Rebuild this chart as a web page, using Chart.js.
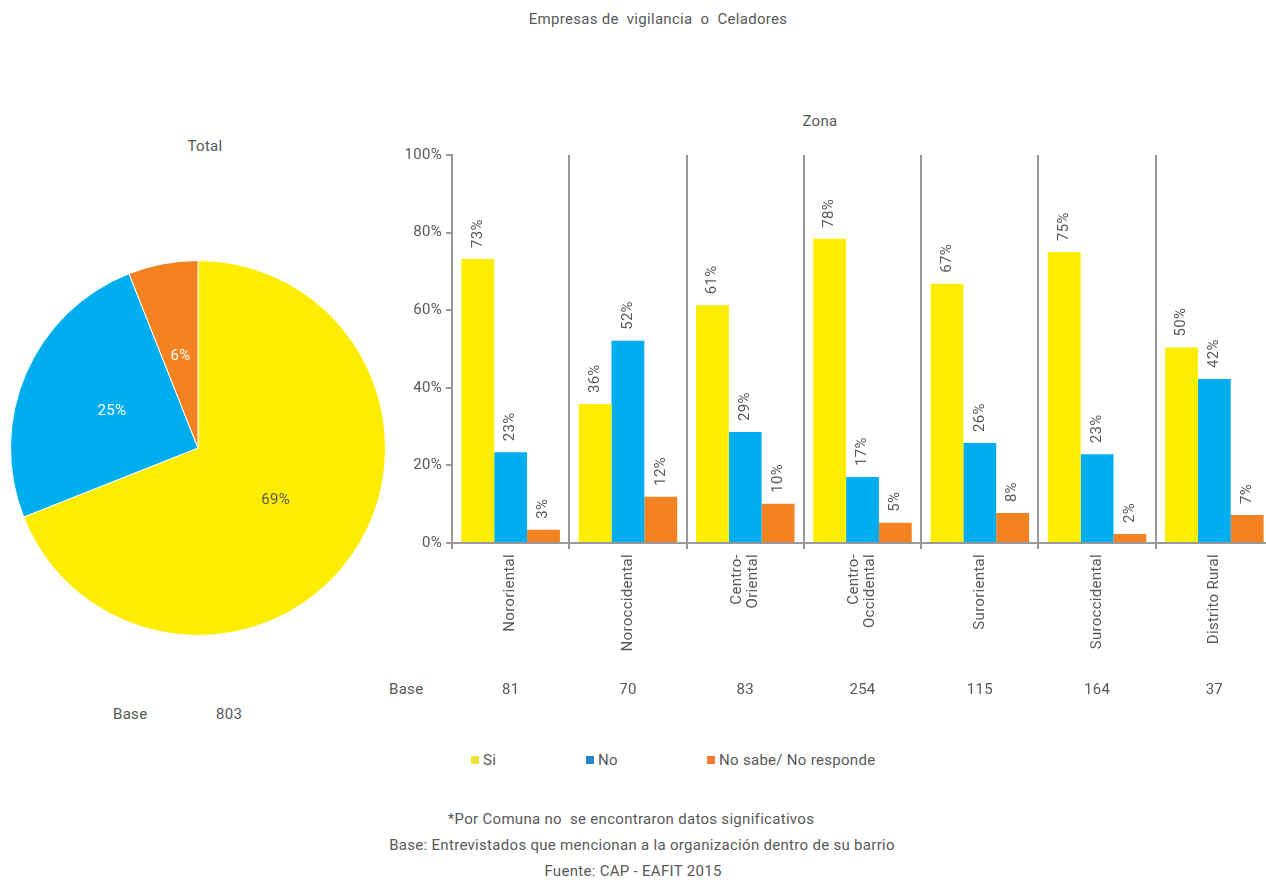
<!DOCTYPE html>
<html>
<head>
<meta charset="utf-8">
<script src="https://cdn.jsdelivr.net/npm/chart.js"></script>
<style>
  html, body { overflow: hidden; }
  body { margin: 0; width: 1266px; height: 880px; background: #fff; font-family: Roboto, sans-serif; color: #595959; position: relative; }
  .txt { position: absolute; font-size: 15px; letter-spacing: 0.3px; white-space: pre; }
  .c { transform: translateX(-50%); }
  canvas { position: absolute; }
  .lg { position: absolute; top: 751px; font-size: 15px; letter-spacing: 0.3px; display: flex; align-items: center; }
  .lg i { display: inline-block; width: 8px; height: 8px; margin-right: 4px; }
</style>
</head>
<body>
<div class="txt c" style="left:658px; top:10px;">Empresas de  vigilancia  o  Celadores</div>
<div class="txt c" style="left:205px; top:137px;">Total</div>
<div class="txt c" style="left:820px; top:112px;">Zona</div>
<div class="txt" style="left:113px; top:705px;">Base</div>
<div class="txt" style="left:216px; top:705px;">803</div>
<div class="txt" style="left:389px; top:680px;">Base</div>

<canvas id="pie" width="396" height="376" style="left:0; top:260px;"></canvas>
<canvas id="bars" width="894" height="580" style="left:380px; top:140px;"></canvas>

<div class="lg" style="left:471px;"><i style="background:#ECE13A"></i>Si</div>
<div class="lg" style="left:586px;"><i style="background:#2383CA"></i>No</div>
<div class="lg" style="left:707px;"><i style="background:#F37B35"></i>No sabe/ No responde</div>

<div class="txt c" style="left:631px; top:810px;">*Por Comuna no  se encontraron datos significativos</div>
<div class="txt c" style="left:642px; top:836px;">Base: Entrevistados que mencionan a la organización dentro de su barrio</div>
<div class="txt c" style="left:633px; top:862px;">Fuente: CAP - EAFIT 2015</div>

<script>
const zonas = ["Nororiental", "Noroccidental", ["Centro-", "Oriental"], ["Centro-", "Occidental"], "Suroriental", "Suroccidental", "Distrito Rural"];
const bases = [81, 70, 83, 254, 115, 164, 37];
const si = [73.2, 35.8, 61.3, 78.4, 66.8, 75.0, 50.4];
const no = [23.4, 52.1, 28.6, 17.0, 25.8, 22.9, 42.3];
const nsnr = [3.4, 11.9, 10.1, 5.2, 7.7, 2.3, 7.2];
const totalLabels = ["Si", "No", "No sabe/ No responde"];
const totalValues = [69, 25, 6];
const yTicks = [0, 20, 40, 60, 80, 100];

const YELLOW = "#FFED00", BLUE = "#00AEEF", ORANGE = "#F58220";
const TXT = "#595959", AXIS = "#999999";
const FONT = "Roboto, sans-serif";

// wider letter spacing like the original typeface
const spacing = {
  id: "spacing",
  beforeDraw(chart) { chart.ctx.letterSpacing = "0.3px"; }
};

// rotated value labels above each bar
const barLabels = {
  id: "barLabels",
  afterDatasetsDraw(chart) {
    const ctx = chart.ctx;
    ctx.save();
    ctx.font = "15px " + FONT;
    ctx.fillStyle = TXT;
    chart.data.datasets.forEach((ds, di) => {
      chart.getDatasetMeta(di).data.forEach((el, i) => {
        ctx.save();
        ctx.translate(el.x, el.y - 11);
        ctx.rotate(-Math.PI / 2);
        ctx.textAlign = "left";
        ctx.textBaseline = "middle";
        ctx.fillText(Math.round(ds.data[i]) + "%", 0, 0);
        ctx.restore();
      });
    });
    ctx.restore();
  }
};

// zone names (rotated, multi-line centred) and base row under the axis
const zoneLabels = {
  id: "zoneLabels",
  afterDraw(chart) {
    const ctx = chart.ctx, x = chart.scales.x;
    const top = chart.chartArea.bottom + 11;
    ctx.save();
    ctx.font = "15px " + FONT;
    ctx.fillStyle = TXT;
    zonas.forEach((z, i) => {
      const lines = Array.isArray(z) ? z : [z];
      const cx = x.getPixelForValue(i);
      lines.forEach((ln, j) => {
        ctx.save();
        ctx.translate(cx + (j - (lines.length - 1) / 2) * 16, top);
        ctx.rotate(-Math.PI / 2);
        ctx.textAlign = "right";
        ctx.textBaseline = "middle";
        ctx.fillText(ln, 0, 0);
        ctx.restore();
      });
    });
    ctx.textAlign = "center";
    ctx.textBaseline = "middle";
    bases.forEach((b, i) => ctx.fillText(String(b), x.getPixelForValue(i), 550));
    ctx.restore();
  }
};

new Chart(document.getElementById("bars"), {
  type: "bar",
  data: {
    labels: zonas,
    datasets: [
      { label: "Si", data: si, backgroundColor: YELLOW },
      { label: "No", data: no, backgroundColor: BLUE },
      { label: "No sabe/ No responde", data: nsnr, backgroundColor: ORANGE }
    ]
  },
  options: {
    responsive: false,
    animation: false,
    layout: { padding: { top: 15, right: 1 } },
    datasets: { bar: { categoryPercentage: 0.84, barPercentage: 1.0 } },
    plugins: { legend: { display: false }, tooltip: { enabled: false } },
    scales: {
      x: {
        afterFit: s => { s.height = 177; },
        grid: { offset: true, color: AXIS, lineWidth: 2, tickLength: 6 },
        border: { color: AXIS, width: 2 },
        ticks: { display: false }
      },
      y: {
        min: 0, max: 100,
        afterFit: s => { s.width = 72; },
        afterBuildTicks: s => { s.ticks = yTicks.map(v => ({ value: v })); },
        grid: { drawOnChartArea: false, color: AXIS, lineWidth: 2, tickLength: 6 },
        border: { color: AXIS, width: 2 },
        ticks: { color: TXT, font: { family: FONT, size: 15 }, padding: 4, callback: v => v + "%" }
      }
    }
  },
  plugins: [spacing, barLabels, zoneLabels]
});

const pieLabels = {
  id: "pieLabels",
  afterDatasetsDraw(chart) {
    const ctx = chart.ctx;
    ctx.save();
    ctx.font = "15px " + FONT;
    ctx.letterSpacing = "0.3px";
    ctx.textAlign = "center";
    ctx.textBaseline = "middle";
    chart.getDatasetMeta(0).data.forEach((el, i) => {
      const p = el.tooltipPosition();
      ctx.fillStyle = i === 0 ? TXT : "#ffffff";
      ctx.fillText(totalValues[i] + "%", p.x, p.y);
    });
    ctx.restore();
  }
};

new Chart(document.getElementById("pie"), {
  type: "pie",
  data: {
    labels: totalLabels,
    datasets: [{ data: totalValues, backgroundColor: [YELLOW, BLUE, ORANGE], borderColor: "#ffffff", borderWidth: 1 }]
  },
  options: {
    responsive: false,
    animation: false,
    plugins: { legend: { display: false }, tooltip: { enabled: false } }
  },
  plugins: [pieLabels]
});
</script>
</body>
</html>
